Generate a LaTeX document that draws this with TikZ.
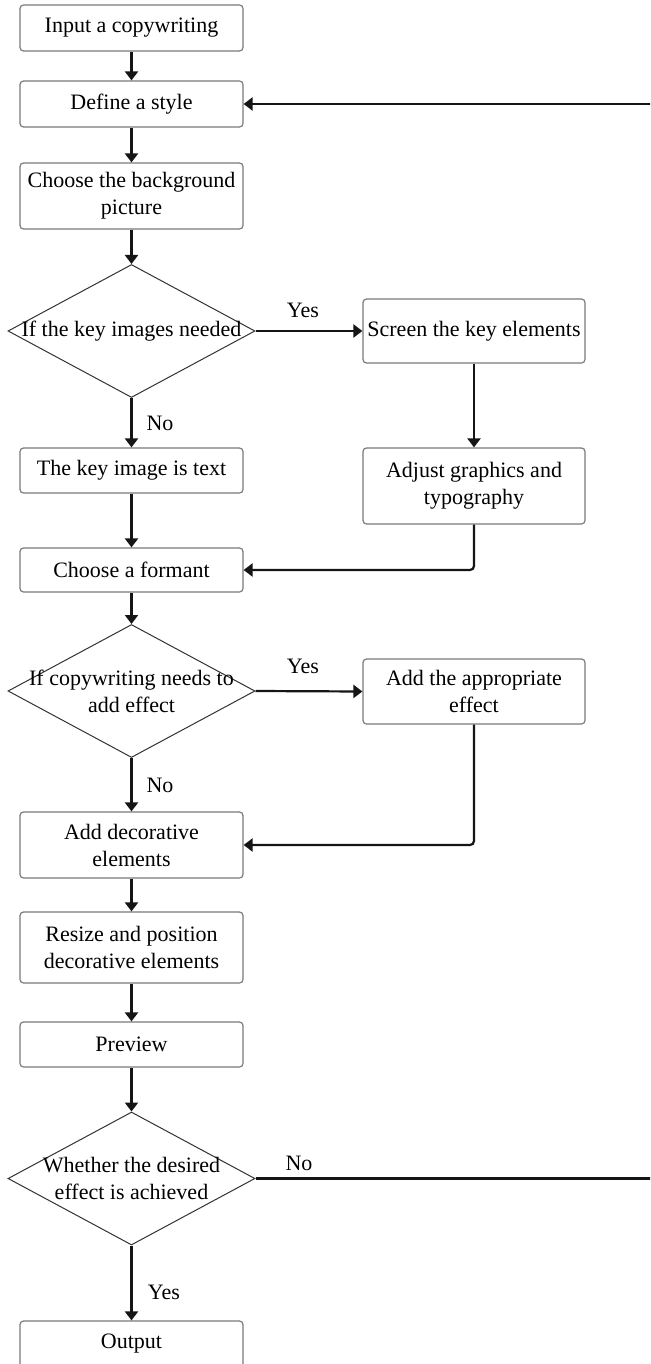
\documentclass[tikz,border=0pt]{standalone}
\usepackage{fontspec}
\setmainfont{Liberation Serif}
\newfontfamily\tnrfont{Liberation Serif}
\usetikzlibrary{shapes.geometric,arrows.meta}
\definecolor{boxgray}{HTML}{7A7A7A}
\definecolor{ink}{HTML}{151515}
\definecolor{diagray}{HTML}{333333}
\newcommand\mainfs{\tnrfont\fontsize{22}{27}\selectfont}
\begin{document}
\begin{tikzpicture}[x=1pt,y=-1pt,
  box/.style={draw=boxgray, line width=1.2pt, rounded corners=3.5pt, minimum width=223pt, inner sep=0pt, align=center, font=\mainfs},
  dia/.style={draw=diagray, line width=1pt, shape=diamond, minimum width=247pt, minimum height=133pt, inner sep=0pt},
  lab/.style={font=\mainfs, inner sep=0pt, align=center},
  arr/.style={draw=ink, line width=2.2pt, -{Triangle[length=9pt,width=13pt]}}
]
\clip (0,0) rectangle (650,1364);
\fill[white] (0,0) rectangle (650,1364);

% main column
\node[box, minimum height=46pt] (in) at (131.5,28) {Input a copywriting};
\node[box, minimum height=46pt] (def) at (131.5,104) {Define a style};
\node[box, minimum height=66pt] (bg) at (131.5,196) {Choose the background\\picture};
\node[dia] (d1) at (131.5,331) {};
\node[lab] (d1t) at (d1.center) {If the key images needed};
\node[box, minimum height=45pt] (kit) at (131.5,470.5) {The key image is text};
\node[box, minimum height=44pt] (fmt) at (131.5,570) {Choose a formant};
\node[dia] (d2) at (131.5,691) {};
\node[lab] (d2t) at (d2.center) {If copywriting needs to\\add effect};
\node[box, minimum height=66pt] (dec) at (131.5,845) {Add decorative\\elements};
\node[box, minimum height=71pt] (rsz) at (131.5,947.5) {Resize and position\\decorative elements};
\node[box, minimum height=45pt] (prv) at (131.5,1044.5) {Preview};
\node[dia] (d3) at (131.5,1178.5) {};
\node[lab] (d3t) at (d3.center) {Whether the desired\\effect is achieved};
\node[box, minimum height=46pt] (out) at (131.5,1344) {Output};

% right column
\node[box, minimum width=222pt, minimum height=64pt] (scr) at (474,331) {Screen the key elements};
\node[box, minimum width=222pt, minimum height=76pt] (adj) at (474,486) {Adjust graphics and\\typography};
\node[box, minimum width=222pt, minimum height=65pt] (eff) at (474,691.5) {Add the appropriate\\effect};

% labels
\node[lab] (yes1) at (303,310) {Yes};
\node[lab] (no1) at (160,423) {No};
\node[lab] (yes2) at (303,666) {Yes};
\node[lab] (no2) at (160,785) {No};
\node[lab] (no3) at (299,1163) {No};
\node[lab] (yes3) at (164,1292) {Yes};

\coordinate (ret) at (700,1178.5);

% connectors
\draw[arr] (in) -- (def);
\draw[arr] (def) -- (bg);
\draw[arr] (bg) -- (d1);
\draw[arr] (d1.east) -- (scr.west);
\draw[arr] (d1.south) -- (kit.north);
\draw[arr] (scr) -- (adj);
\draw[arr] (kit) -- (fmt);
\draw[arr, rounded corners=4pt] (adj.south) |- (fmt.east);
\draw[arr] (fmt) -- (d2);
\draw[arr] (d2.east) -- (eff.west);
\draw[arr] (d2.south) -- (dec.north);
\draw[arr, rounded corners=4pt] (eff.south) |- (dec.east);
\draw[arr] (dec) -- (rsz);
\draw[arr] (rsz) -- (prv);
\draw[arr] (prv) -- (d3);
\draw[arr] (d3.south) -- (out.north);
\draw[arr] (d3.east) -- (ret) |- (def.east);
\end{tikzpicture}
\end{document}
